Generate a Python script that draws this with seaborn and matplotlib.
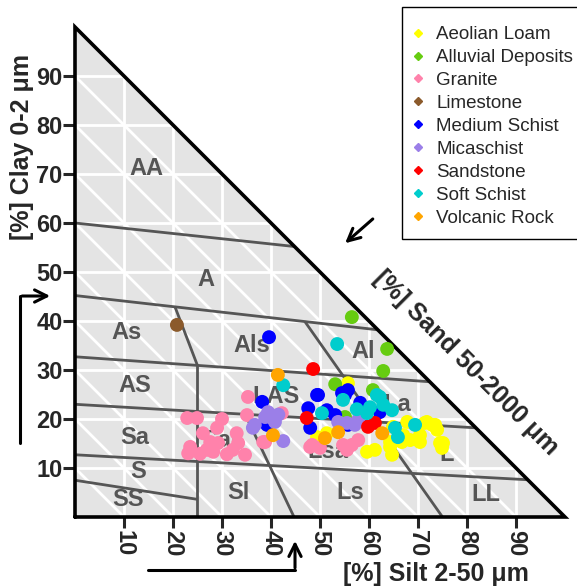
import numpy as np
import pandas as pd
import matplotlib
matplotlib.use("Agg")
import matplotlib.pyplot as plt
import seaborn as sns
from matplotlib.lines import Line2D
from matplotlib.patches import Rectangle

# ==================== Data ==================== #
rock_types = ["Aeolian Loam", "Alluvial Deposits", "Granite", "Limestone",
              "Medium Schist", "Micaschist", "Sandstone", "Soft Schist",
              "Volcanic Rock"]
rock_colors = ["#ffff00", "#66cc11", "#ff82ab", "#8b5a2b", "#0000ff",
               "#9b7fe8", "#ff0000", "#00cdcd", "#ffa500"]

# silt (%) / clay (%) per rock type
aeolian_silt = [55.7, 67.8, 71.4, 73.9, 74.5, 74.9, 70.4, 68.4, 64.3, 64.7, 67.0,
                72.9, 61.2, 64.9, 64.3, 59.6, 51.4, 49.4, 66.7, 71.8, 73.5, 75.1, 70.4]
aeolian_clay = [27.3, 19.4, 19.2, 17.8, 15.1, 14.1, 15.3, 15.7, 14.3, 12.7, 16.7,
                18.8, 13.7, 18.4, 15.3, 13.3, 17.1, 16.3, 15.3, 19.4, 18.8, 15.1, 16.7]
alluvial_silt = [56.5, 63.7, 62.9, 53.1, 60.8, 55.1]
alluvial_clay = [40.8, 34.3, 29.8, 27.1, 25.9, 20.4]
granite_silt = [22.9, 24.9, 30.0, 29.0, 26.1, 27.6, 29.2, 33.0, 33.3, 23.5, 23.1,
                28.2, 32.2, 34.7, 26.9, 35.3, 35.1, 42.2, 38.8, 48.4, 54.7, 56.5,
                57.8, 55.5, 48.0, 50.0, 38.4, 31.0, 25.5]
granite_clay = [20.2, 20.2, 20.0, 18.2, 17.1, 15.3, 15.1, 17.1, 15.1, 14.3, 13.0,
                13.3, 13.7, 12.7, 13.7, 24.5, 20.8, 21.2, 15.3, 14.7, 14.7, 14.7,
                15.7, 13.7, 14.3, 14.1, 15.3, 12.8, 12.9]
limestone_silt = [20.8]
limestone_clay = [39.2]
medium_silt = [39.6, 38.2, 39.2, 49.6, 47.6, 48.0, 51.4, 54.5, 55.7, 55.1, 58.2,
               62.2, 53.1, 55.7, 49.4]
medium_clay = [36.7, 23.5, 18.8, 24.9, 22.2, 18.2, 21.8, 25.3, 25.9, 24.9, 23.3,
               21.4, 20.8, 18.8, 24.9]
mica_silt = [39.4, 40.2, 36.7, 40.8, 42.5, 38.8, 36.3, 53.7, 55.5, 57.1, 57.8, 41.5]
mica_clay = [21.4, 20.2, 18.8, 19.4, 15.5, 20.4, 18.2, 19.4, 19.2, 18.8, 19.8, 20.9]
sandstone_silt = [48.6, 47.3, 59.8, 61.2]
sandstone_clay = [30.2, 20.2, 18.4, 19.2]
soft_silt = [53.5, 42.5, 54.7, 50.4, 62.2, 60.2, 64.7, 65.3, 65.9, 59.6, 69.4,
             61.6, 62.9, 57.5]
soft_clay = [35.3, 26.9, 23.9, 21.2, 24.5, 22.4, 21.8, 18.2, 16.3, 21.2, 18.8,
             24.9, 22.9, 22.0]
volcanic_silt = [41.4, 40.4, 51.0, 53.7, 62.7]
volcanic_clay = [29.0, 16.7, 16.1, 17.3, 17.1]

silt_lists = [aeolian_silt, alluvial_silt, granite_silt, limestone_silt, medium_silt,
              mica_silt, sandstone_silt, soft_silt, volcanic_silt]
clay_lists = [aeolian_clay, alluvial_clay, granite_clay, limestone_clay, medium_clay,
              mica_clay, sandstone_clay, soft_clay, volcanic_clay]

# texture class boundaries (silt, clay)
boundaries = [
    [(0, 60.0), (44.8, 55.2)],
    [(0, 45.2), (61.8, 38.2)],
    [(0, 32.7), (72.4, 27.6)],
    [(0, 23.0), (81.8, 18.2)],
    [(0, 12.7), (92.4, 7.6)],
    [(0, 7.5), (25.0, 3.6)],
    [(25.0, 0), (25.0, 30.9), (20.4, 42.9)],
    [(34.8, 20.8), (44.7, 0)],
    [(46.9, 39.9), (75.0, 0)],
]

class_names = ["AA", "A", "As", "Als", "Al", "AS", "LAS", "La", "Sa", "Sal",
               "Lsa", "L", "S", "SS", "Sl", "Ls", "LL"]
class_silt = [14.5, 26.7, 10.6, 36.1, 58.8, 12.2, 41.0, 65.7, 12.2, 29.6,
              51.6, 75.9, 12.9, 10.8, 33.3, 56.1, 83.9]
class_clay = [71.2, 48.4, 37.6, 35.1, 33.7, 26.9, 24.5, 22.9, 16.3, 15.7,
              13.3, 12.7, 9.2, 3.5, 4.9, 4.9, 4.5]

ticks = [10, 20, 30, 40, 50, 60, 70, 80, 90]

# ==================== Plot ==================== #
sns.set_style("white")
plt.rcParams["font.family"] = ["Liberation Sans", "DejaVu Sans"]

fig = plt.figure(figsize=(5.77, 5.86), dpi=100)
ax = fig.add_axes([75 / 577, 1 - 517 / 586, 490 / 577, 490 / 586])
ax.set_xlim(0, 100)
ax.set_ylim(0, 100)
for sp in ax.spines.values():
    sp.set_visible(False)

ax.fill([0, 0, 100], [0, 100, 0], color="#e4e4e4", zorder=0)
for k in ticks:
    ax.plot([0, 100 - k], [k, k], color="white", lw=2.0, zorder=1)
    ax.plot([k, k], [0, 100 - k], color="white", lw=2.0, zorder=1)
    ax.plot([0, 100 - k], [100 - k, 0], color="white", lw=2.0, zorder=1)

for b in boundaries:
    xs, ys = zip(*b)
    ax.plot(xs, ys, color="#555555", lw=2.0, zorder=2, solid_capstyle="butt")

ax.plot([0, 0, 100, 0], [0, 100, 0, 0], color="black", lw=2.6, zorder=3,
        clip_on=False, solid_joinstyle="miter")

for name, sx, cy in zip(class_names, class_silt, class_clay):
    ax.text(sx, cy, name, color="#555555", fontsize=17, fontweight="bold",
            ha="center", va="center", zorder=2.5)

df = pd.DataFrame({
    "silt": np.concatenate(silt_lists),
    "clay": np.concatenate(clay_lists),
    "rock": np.concatenate([[r] * len(s) for r, s in zip(rock_types, silt_lists)]),
})
sns.scatterplot(data=df, x="silt", y="clay", hue="rock", hue_order=rock_types,
                palette=dict(zip(rock_types, rock_colors)), s=100, linewidth=0,
                legend=False, ax=ax, zorder=5)

ax.set_xticks(ticks)
ax.set_yticks(ticks)
ax.set_xticklabels([str(t) for t in ticks], rotation=270, fontsize=17,
                   fontweight="bold")
ax.set_yticklabels([str(t) for t in ticks], fontsize=17, fontweight="bold")
ax.tick_params(axis="y", direction="out", length=9, width=2.2, pad=0, left=True)
ax.tick_params(axis="x", direction="out", length=8, width=2.2, pad=1, bottom=True)
ax.set_xlabel("")
ax.set_ylabel("")

ax.text(-10.8, 75.5, "[%] Clay 0-2 μm", rotation=90, fontsize=18,
        fontweight="bold", ha="center", va="center")
ax.text(73.7, -11.6, "[%] Silt 2-50 μm", fontsize=18, fontweight="bold",
        ha="center", va="center", clip_on=False)
ax.text(79.8, 31.4, "[%] Sand 50-2000 μm", rotation=-45, fontsize=18,
        fontweight="bold", ha="center", va="center", rotation_mode="anchor")

# direction arrows
arrow = dict(arrowstyle="->", lw=2.2, color="black", mutation_scale=22)
ax.plot([-11.2, -11.2], [15.1, 45.1], color="black", lw=2.2, clip_on=False)
ax.annotate("", xy=(-4.5, 45.1), xytext=(-11.35, 45.1), arrowprops=arrow,
            annotation_clip=False)
ax.plot([14.9, 44.9], [-10.8, -10.8], color="black", lw=2.2, clip_on=False)
ax.annotate("", xy=(44.9, -4.3), xytext=(44.9, -10.95), arrowprops=arrow,
            annotation_clip=False)
ax.annotate("", xy=(54.7, 55.5), xytext=(61.2, 61.2), arrowprops=arrow,
            annotation_clip=False)

# legend: frame drawn separately so the box matches the original
fig.patches.append(Rectangle((402 / 577, 1 - 239 / 586), 190 / 577, 232 / 586,
                             transform=fig.transFigure, facecolor="white",
                             edgecolor="black", lw=1.0, zorder=6))
handles = [Line2D([], [], marker="D", linestyle="", markersize=4.5,
                  markerfacecolor=c, markeredgecolor=c) for c in rock_colors]
leg = fig.legend(handles, rock_types, loc="upper left",
                 bbox_to_anchor=(412 / 577, 1 - 26 / 586), fontsize=13.5,
                 frameon=False, handlelength=0.6, handletextpad=0.7,
                 labelspacing=0.31, borderpad=0, borderaxespad=0)
leg.set_zorder(7)

fig.savefig("out.png", dpi=100)
